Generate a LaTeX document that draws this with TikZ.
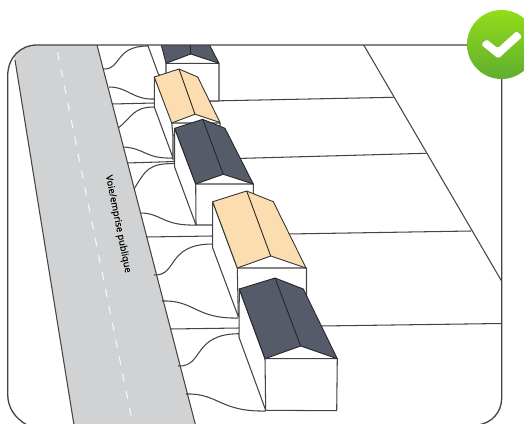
\documentclass[tikz,border=0pt]{standalone}
\usepackage{fontspec}
\setmainfont{Open Sans}
\usetikzlibrary{positioning}
\definecolor{roadgrey}{HTML}{D1D2D4}
\definecolor{rooftan}{HTML}{FBDDB0}
\definecolor{roofdark}{HTML}{565B69}
\definecolor{framegrey}{HTML}{444444}
\definecolor{badgetop}{HTML}{93DC1A}
\definecolor{badgebot}{HTML}{5FAE30}
\newcommand{\framepath}{(7.7,76) .. controls (7.7,58) and (20,45) .. (37,45) -- (501.7,45) -- (501.7,398) .. controls (501.7,412) and (492,423) .. (478,425) -- (27,425) .. controls (15,418) and (7.7,408) .. (7.7,394) -- cycle}

\begin{document}
\begin{tikzpicture}[x=0.02cm,y=-0.02cm,
    border/.style={framegrey, line width=0.75pt},
    road/.style={fill=roadgrey, draw=none},
    edge/.style={framegrey, line width=0.6pt},
    plotline/.style={framegrey, line width=0.6pt},
    wall/.style={fill=white, draw=framegrey, line width=0.6pt, line join=round},
    tanroof/.style={fill=rooftan, draw=black!80, line width=0.5pt, line join=round},
    darkroof/.style={fill=roofdark, draw=black!85, line width=0.5pt, line join=round},
    ridge/.style={black!85, line width=0.5pt}
  ]
  \clip (0,0) rectangle (524,423);

  \begin{scope}
    \clip \framepath;

    % road
    \fill[road] (0,-20) -- (97,45) -- (195.5,425) -- (74,425) -- (15,60) -- cycle;
    \draw[edge] (15,60) -- (74,425);
    \draw[edge] (97,45) -- (195.5,425);
    \draw[white!85!roadgrey, line width=0.6pt, dash pattern=on 4.7pt off 5.13pt] (57.5,52) -- (133,425);

    % rear limit
    \draw[edge] (363.7,45) -- (510,295.5);
    \draw[plotline] (210,101) -- (393.7,97.3);
    \draw[plotline] (240,158.4) -- (426,153.3);
    \draw[plotline] (288,234) -- (471,231);
    \draw[plotline] (320,326) -- (501.7,323.5);

    % plot fronts
    \draw[plotline] (103,69) .. controls (122,70) and (114,46) .. (148,46);
    \draw[plotline] (109,87) .. controls (128,87) and (133,100) .. (154.3,99);
    \draw[plotline] (112,104) -- (154.3,103);
    \draw[plotline] (118,128) .. controls (132,118) and (132,107) .. (154.3,107);
    \draw[plotline] (123,147) .. controls (145,148) and (145,159) .. (173,158);
    \draw[plotline] (127,163) -- (174.7,161.5);
    \draw[plotline] (134,189) .. controls (146,170) and (148,163.5) .. (174.7,163.5);
    \draw[plotline] (140,213) .. controls (162,213) and (162,226) .. (196,225);
    \draw[plotline] (146,237) -- (212.7,236);
    \draw[plotline] (154,275) .. controls (178,276) and (166,244) .. (212.7,244);
    \draw[plotline] (162,301) .. controls (195,300) and (195,319) .. (238.3,318);
    \draw[plotline] (170,329) -- (239,328);
    \draw[plotline] (178,366) .. controls (204,367) and (192,334) .. (239,333.7);
    \draw[plotline] (186,394) .. controls (218,393) and (220,412) .. (265.7,411);

    % house 1
    \draw[wall] (147.7,45) -- (158.3,74) -- (166,80) -- (166,63.3) -- (219,63.3) -- (219,101) -- (190,101) -- (166,80);
    \draw[darkroof] (160,40) -- (166,63.3) -- (190.7,54) -- (219,63.3) -- (207,40) -- cycle;
    \draw[ridge] (190,40) -- (190.7,54);

    % house 2
    \draw[wall] (154.3,77) -- (154.3,107) -- (172.7,157) -- (173,160) -- (173,123) -- cycle;
    \draw[wall] (171.7,123) -- (220,123) -- (220,135) -- (173,135) -- cycle;
    \draw[tanroof] (154.3,77) -- (179,69) -- (197.7,77) -- (220,122.5) -- (195,114.2) -- (171.7,123) -- cycle;
    \draw[ridge] (179,69) -- (195,114.2);

    % house 3
    \draw[wall] (174.7,128.3) -- (174.7,167.3) -- (196,225) -- (212.7,225) -- (253.3,225) -- (253.3,184) -- (195.7,184) -- cycle;
    \draw[edge] (195.7,184) -- (196,225);
    \draw[darkroof] (174.7,128.3) -- (202.7,119.3) -- (225,128.3) -- (253.3,184) -- (223.3,174.3) -- (195.7,184) -- cycle;
    \draw[ridge] (202.7,119.3) -- (223.3,174.3);

    % house 4
    \draw[wall] (212.7,201.7) -- (212.7,248) -- (238.3,316.7) -- (306.5,316.7) -- (306.5,268) -- (237.3,268) -- cycle;
    \draw[edge] (237.3,268) -- (238.3,316.7);
    \draw[tanroof] (212.7,201.7) -- (246.7,191) -- (273.3,201.7) -- (306,268) -- (270.7,256) -- (237.3,268) -- cycle;
    \draw[ridge] (246.7,191) -- (270.7,256);

    % house 5
    \draw[wall] (239.3,289) -- (239,337.3) -- (265.7,410.3) -- (336.7,410.7) -- (337.3,358.7) -- (265,358.7) -- cycle;
    \draw[edge] (265,358.7) -- (265.7,410.3);
    \draw[darkroof] (239.3,289) -- (275,278) -- (303.3,289) -- (337.3,358.7) -- (300.7,346) -- (265,358.7) -- cycle;
    \draw[ridge] (275,278) -- (300.7,346);

    \node[rotate=-78.6, font=\fontsize{5.35pt}{6pt}\selectfont\addfontfeature{FakeBold=0.25}, inner sep=0pt] (roadlabel) at (118,224) {Voie/emprise publique};
  \end{scope}

  % frame
  \draw[border] \framepath;

  % badge
  \shade[top color=badgetop, bottom color=badgebot] (501.5,44.5) circle (34.5);
  \fill[white, rounded corners=1pt] (481,44.5) -- (486.7,39.3) -- (497.7,48.3) -- (516.7,31) -- (522.3,36.7) -- (498.3,58.6) -- cycle;
\end{tikzpicture}
\end{document}
